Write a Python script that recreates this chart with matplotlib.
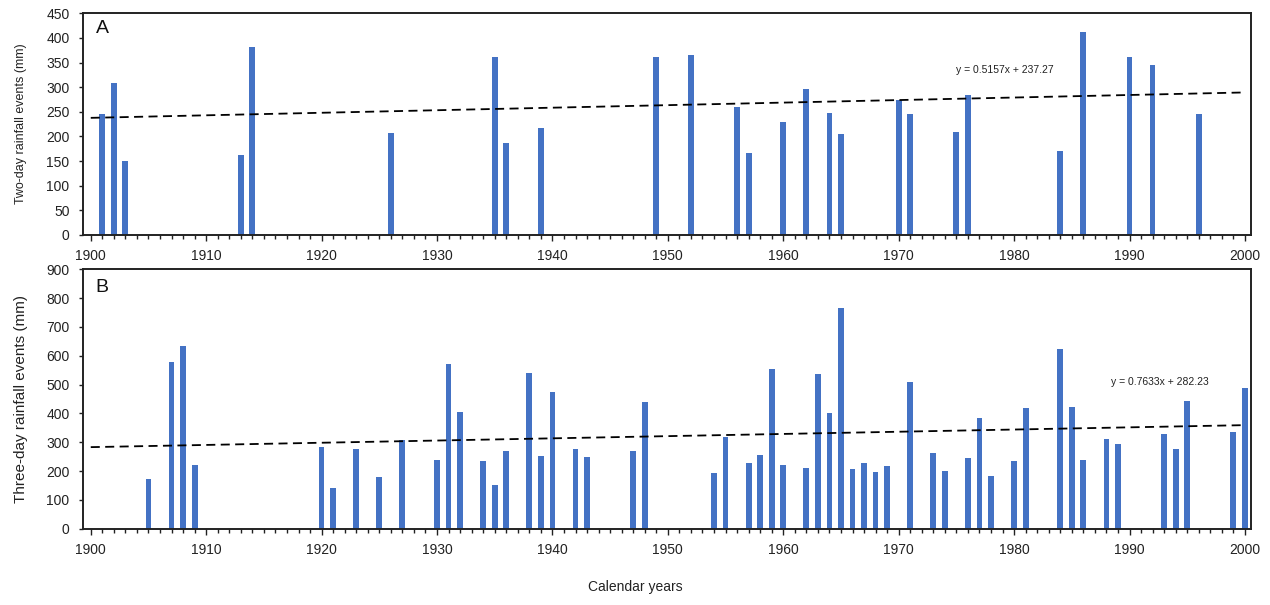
import matplotlib
matplotlib.use("Agg")
import matplotlib.pyplot as plt
import numpy as np
from matplotlib.ticker import MultipleLocator

plt.rcParams['font.family'] = ['Liberation Sans', 'DejaVu Sans']

# ---- Data ----
years_two = [1901, 1902, 1903, 1913, 1914, 1926, 1935, 1936, 1939, 1949, 1952,
             1956, 1957, 1960, 1962, 1964, 1965, 1970, 1971, 1975, 1976, 1984,
             1986, 1990, 1992, 1996]
vals_two = [246, 308, 150, 162, 382, 208, 362, 187, 218, 361, 366,
            260, 167, 229, 296, 248, 204, 274, 246, 210, 284, 170,
            413, 362, 346, 246]

years_three = [1905, 1907, 1908, 1909, 1920, 1921, 1923, 1925, 1927, 1930, 1931,
               1932, 1934, 1935, 1936, 1938, 1939, 1940, 1942, 1943, 1947, 1948,
               1954, 1955, 1957, 1958, 1959, 1960, 1962, 1963, 1964, 1965, 1966,
               1967, 1968, 1969, 1971, 1973, 1974, 1976, 1977, 1978, 1980, 1981,
               1984, 1985, 1986, 1988, 1989, 1993, 1994, 1995, 1999, 2000]
vals_three = [171, 577, 635, 220, 283, 141, 278, 180, 307, 238, 571,
              404, 236, 153, 268, 539, 252, 474, 277, 250, 268, 438,
              193, 317, 229, 256, 553, 220, 211, 535, 401, 765, 208,
              227, 197, 217, 508, 263, 200, 245, 384, 183, 236, 420,
              623, 423, 238, 311, 293, 327, 276, 444, 335, 489]

# Excel-style trend lines (x = category index, 1900 -> 1)
trend_two = (0.5157, 237.27)
trend_three = (0.7633, 282.23)
year_start, year_end = 1900, 2000

x_ticks = list(range(1900, 2001, 10))
y_ticks_two = list(range(0, 451, 50))
y_ticks_three = list(range(0, 901, 100))

BAR_COLOR = '#4472C4'
TXT = '#222222'

fig = plt.figure(figsize=(12.70, 6.05), dpi=100)
pos1 = [0.0651, 0.6116, 0.9197, 0.3664]
pos2 = [0.0651, 0.1261, 0.9197, 0.4288]
ax1 = fig.add_axes(pos1)
ax2 = fig.add_axes(pos2)


def style(ax, pos, yticks, ylabel, ylab_size, letter, years, vals, trend,
          eq_text, eq_xy):
    ax.bar(years, vals, width=0.5, color=BAR_COLOR, zorder=2)
    xs = np.arange(year_start, year_end + 1)
    idx = xs - year_start + 1
    ax.plot(xs, trend[0] * idx + trend[1], color='black', lw=1.3,
            ls=(0, (5, 3)), zorder=3)
    ax.set_xlim(1899.3, 2000.5)
    ax.set_ylim(yticks[0], yticks[-1])
    ax.set_yticks(yticks)
    ax.set_xticks(x_ticks)
    ax.xaxis.set_minor_locator(MultipleLocator(1))
    ax.tick_params(axis='x', which='major', direction='out', length=4, width=1,
                   labelsize=10, colors=TXT, pad=6)
    ax.tick_params(axis='x', which='minor', direction='out', length=3, width=1,
                   colors=TXT)
    ax.tick_params(axis='y', direction='out', length=3, width=1,
                   labelsize=10, colors=TXT, pad=6.5)
    for sp in ax.spines.values():
        sp.set_linewidth(1.4)
        sp.set_color(TXT)
    fig.text(21 / 1270, pos[1] + pos[3] / 2, ylabel, rotation=90,
             ha='center', va='center', fontsize=ylab_size, color=TXT)
    ax.text(0.011, 0.93, letter, transform=ax.transAxes, fontsize=14,
            va='center', ha='left', color='#111111')
    ax.text(eq_xy[0], eq_xy[1], eq_text, fontsize=7.5, color=TXT,
            ha='left', va='center')


style(ax1, pos1, y_ticks_two, 'Two-day rainfall events (mm)', 9, 'A',
      years_two, vals_two, trend_two, 'y = 0.5157x + 237.27', (1974.95, 335))
style(ax2, pos2, y_ticks_three, 'Three-day rainfall events (mm)', 11, 'B',
      years_three, vals_three, trend_three, 'y = 0.7633x + 282.23', (1988.4, 510))

fig.text(0.5, 0.03, 'Calendar years', ha='center', va='center', fontsize=10,
         color=TXT)

fig.savefig('out.png', dpi=100)
